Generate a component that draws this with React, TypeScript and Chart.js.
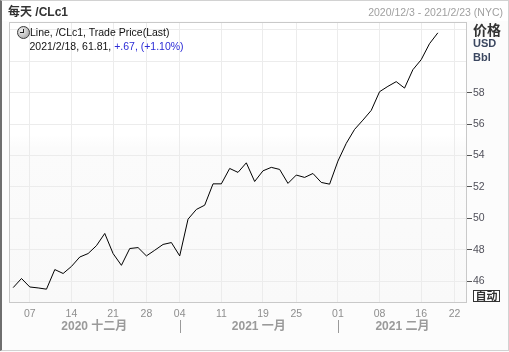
import React, { useEffect, useRef } from "react";
import { Chart, registerables } from "chart.js";

Chart.register(...registerables);

// Trading days shown on the axis (last three have no data yet)
const dates: string[] = [
  "2020-12-03", "2020-12-04", "2020-12-07", "2020-12-08", "2020-12-09", "2020-12-10", "2020-12-11",
  "2020-12-14", "2020-12-15", "2020-12-16", "2020-12-17", "2020-12-18",
  "2020-12-21", "2020-12-22", "2020-12-23", "2020-12-24",
  "2020-12-28", "2020-12-29", "2020-12-30", "2020-12-31",
  "2021-01-04", "2021-01-05", "2021-01-06", "2021-01-07", "2021-01-08",
  "2021-01-11", "2021-01-12", "2021-01-13", "2021-01-14", "2021-01-15",
  "2021-01-19", "2021-01-20", "2021-01-21", "2021-01-22",
  "2021-01-25", "2021-01-26", "2021-01-27", "2021-01-28", "2021-01-29",
  "2021-02-01", "2021-02-02", "2021-02-03", "2021-02-04", "2021-02-05",
  "2021-02-08", "2021-02-09", "2021-02-10", "2021-02-11", "2021-02-12",
  "2021-02-16", "2021-02-17", "2021-02-18", "2021-02-19",
  "2021-02-22", "2021-02-23",
];

// Trade price (last), CLc1
const prices: (number | null)[] = [
  45.58, 46.16, 45.62, 45.56, 45.48, 46.73, 46.48,
  46.93, 47.53, 47.75, 48.25, 49.03,
  47.75, 47.0, 48.07, 48.13,
  47.6, 47.96, 48.33, 48.45,
  47.6, 49.94, 50.56, 50.83, 52.19,
  52.19, 53.17, 52.92, 53.53, 52.34,
  53.02, 53.24, 53.11, 52.22,
  52.75, 52.6, 52.85, 52.28, 52.17,
  53.64, 54.77, 55.66, 56.25, 56.87,
  58.06, 58.4, 58.7, 58.29, 59.46,
  60.1, 61.12, 61.81, null,
  null, null,
];

const xTickDates: string[] = [
  "2020-12-07", "2020-12-14", "2020-12-21", "2020-12-28",
  "2021-01-04", "2021-01-11", "2021-01-19", "2021-01-25",
  "2021-02-01", "2021-02-08", "2021-02-16", "2021-02-22",
];

const yGridValues: number[] = [46, 48, 50, 52, 54, 56, 58, 60, 62];
const yTickLabels: number[] = [46, 48, 50, 52, 54, 56, 58];

const monthLabels: string[] = ["2020 十二月", "2021 一月", "2021 二月"];
const monthStarts: string[] = ["2020-12-03", "2021-01-04", "2021-02-01"];

const FONT = "'Liberation Sans', 'Noto Sans CJK SC', sans-serif";

export default function App() {
  const canvasRef = useRef<HTMLCanvasElement | null>(null);

  useEffect(() => {
    const canvas = canvasRef.current;
    if (!canvas) return;

    const framePlugin = {
      id: "frame",
      beforeDraw(chart: any) {
        const { ctx, chartArea: a } = chart;
        ctx.save();
        const g = ctx.createLinearGradient(0, a.top, 0, a.bottom);
        g.addColorStop(0, "#ffffff");
        g.addColorStop(0.4, "#ffffff");
        g.addColorStop(0.45, "#fbfbfb");
        g.addColorStop(1, "#f9f9f9");
        ctx.fillStyle = g;
        ctx.fillRect(a.left, a.top, a.right - a.left, a.bottom - a.top);
        ctx.restore();
      },
      afterDraw(chart: any) {
        const { ctx, chartArea: a } = chart;
        const xs = chart.scales.x;
        ctx.save();
        ctx.strokeStyle = "#c9c9c9";
        ctx.lineWidth = 1;
        ctx.strokeRect(Math.round(a.left) + 0.5, Math.round(a.top) + 0.5,
          Math.round(a.right - a.left) - 1, Math.round(a.bottom - a.top) - 1);

        // month labels and separators
        ctx.font = `bold 12px ${FONT}`;
        ctx.fillStyle = "#9a9a9a";
        ctx.textAlign = "center";
        ctx.textBaseline = "middle";
        const starts = monthStarts.map((d, i) =>
          i === 0 ? a.left : xs.getPixelForValue(dates.indexOf(d)));
        for (let i = 0; i < monthLabels.length; i++) {
          const s = starts[i];
          const e = i + 1 < starts.length ? starts[i + 1] : a.right;
          ctx.fillText(monthLabels[i], (s + e) / 2, 327);
          if (i > 0) {
            ctx.strokeStyle = "#9a9a9a";
            ctx.beginPath();
            ctx.moveTo(Math.round(s) + 0.5, 320);
            ctx.lineTo(Math.round(s) + 0.5, 333);
            ctx.stroke();
          }
        }
        ctx.restore();
      },
    };

    const chart = new Chart(canvas, {
      type: "line",
      data: {
        labels: dates,
        datasets: [
          {
            label: "/CLc1",
            data: prices,
            borderColor: "#000000",
            borderWidth: 1,
            pointRadius: 0,
            tension: 0,
            fill: false,
            spanGaps: false,
          },
        ],
      },
      options: {
        responsive: false,
        animation: false,
        layout: { padding: { left: 9, top: 22, right: 0, bottom: 0 } },
        plugins: {
          legend: { display: false },
          tooltip: { enabled: false },
        },
        scales: {
          x: {
            type: "category",
            offset: true,
            afterBuildTicks: (scale: any) => {
              scale.ticks = scale.ticks.filter((t: any) => xTickDates.includes(dates[t.value]));
            },
            afterFit: (scale: any) => {
              scale.height = 49;
            },
            grid: { offset: false, color: "#ececec", drawTicks: false, lineWidth: 1 },
            border: { display: false },
            ticks: {
              autoSkip: false,
              maxRotation: 0,
              padding: 5,
              color: "#8e8e8e",
              font: { family: FONT, size: 10.5 },
              callback: (value: any) => dates[value as number].slice(8, 10),
            },
          },
          y: {
            position: "right",
            min: 44.6,
            max: 62.5,
            afterBuildTicks: (scale: any) => {
              scale.ticks = yGridValues.map((v) => ({ value: v }));
            },
            afterFit: (scale: any) => {
              scale.width = 42;
            },
            grid: {
              color: "#ececec",
              tickLength: 5,
              tickColor: (ctx: any) =>
                ctx.tick && yTickLabels.includes(ctx.tick.value) ? "#555555" : "rgba(0,0,0,0)",
            },
            border: { display: false },
            ticks: {
              padding: 1,
              color: "#50505a",
              font: { family: FONT, size: 10.5 },
              callback: (value: any) => (yTickLabels.includes(value as number) ? String(value) : ""),
            },
          },
        },
      },
      plugins: [framePlugin],
    });

    return () => chart.destroy();
  }, []);

  const abs: React.CSSProperties = { position: "absolute", whiteSpace: "nowrap", fontFamily: FONT };

  return (
    <div style={{ position: "fixed", left: 0, top: 0, width: 509, height: 352, background: "#fcfcfc", overflow: "hidden" }}>
      <div style={{ position: "absolute", left: 0, top: 0, width: 509, height: 351, boxSizing: "border-box",
        border: "1px solid #d2d2d2", borderLeft: "2px solid #6e6e6e" }} />
      <div style={{ position: "absolute", left: 2, top: 1, width: 506, height: 20, background: "#ffffff" }} />
      <canvas ref={canvasRef} width={509} height={352} style={{ position: "absolute", left: 0, top: 0 }} />

      <div style={{ ...abs, left: 8, top: 4, fontSize: 12, fontWeight: "bold", color: "#333", lineHeight: "16px" }}>
        每天 /CLc1
      </div>
      <div style={{ ...abs, right: 6, top: 5, fontSize: 10.5, color: "#a0a0a0", lineHeight: "14px" }}>
        2020/12/3 - 2021/2/23 (NYC)
      </div>

      {/* legend */}
      <div style={{ position: "absolute", left: 17, top: 26, width: 11, height: 11, borderRadius: "50%",
        border: "1px solid #3a3a3a", background: "radial-gradient(circle at 35% 35%, #f4f4f4, #9a9a9a)" }}>
        <div style={{ position: "absolute", left: 5, top: 1.5, width: 1, height: 4.5, background: "#222" }} />
        <div style={{ position: "absolute", left: 2, top: 5, width: 4, height: 1, background: "#222" }} />
      </div>
      <div style={{ ...abs, left: 30, top: 26, fontSize: 10.5, color: "#111", lineHeight: "13px" }}>
        Line, /CLc1, Trade Price(Last)
      </div>
      <div style={{ ...abs, left: 29.5, top: 40, fontSize: 10.5, color: "#111", lineHeight: "13px" }}>
        2021/2/18, 61.81, <span style={{ color: "#2b2bd6" }}>+.67, (+1.10%)</span>
      </div>

      {/* right axis header */}
      <div style={{ ...abs, left: 473, top: 22, fontSize: 14, fontWeight: "bold", color: "#333", lineHeight: "17px" }}>
        价格
      </div>
      <div style={{ ...abs, left: 473, top: 37, fontSize: 11, fontWeight: "bold", color: "#3b4760", lineHeight: "13px" }}>
        USD
      </div>
      <div style={{ ...abs, left: 473, top: 51, fontSize: 11, fontWeight: "bold", color: "#3b4760", lineHeight: "13px" }}>
        Bbl
      </div>

      <div style={{ ...abs, left: 473, top: 290, width: 27, height: 12, boxSizing: "border-box",
        border: "1px solid #333", background: "#fff", fontSize: 11, fontWeight: "bold", color: "#333",
        lineHeight: "10px", textAlign: "center" }}>
        自动
      </div>
    </div>
  );
}
